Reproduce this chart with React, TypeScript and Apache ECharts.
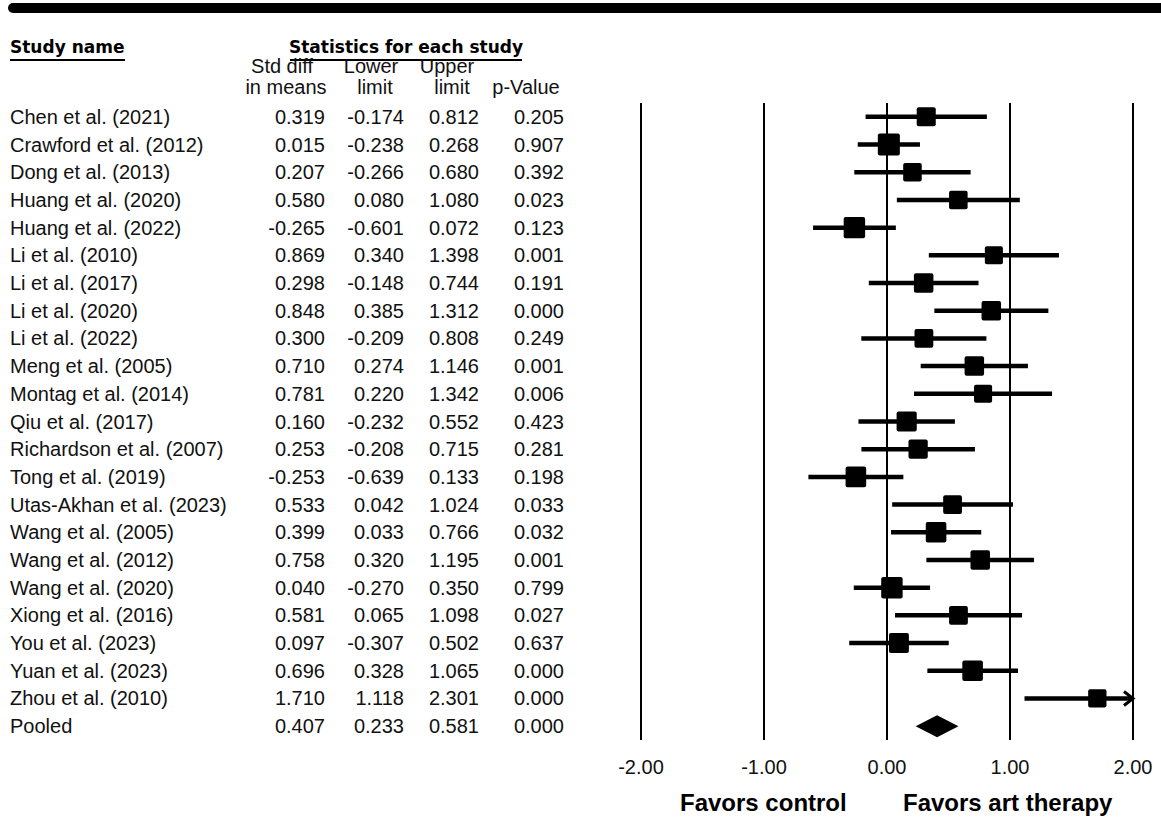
import { useEffect, useRef } from "react";
import * as echarts from "echarts";

const studies = [
  "Chen et al. (2021)",
  "Crawford et al. (2012)",
  "Dong et al. (2013)",
  "Huang et al. (2020)",
  "Huang et al. (2022)",
  "Li et al. (2010)",
  "Li et al. (2017)",
  "Li et al. (2020)",
  "Li et al. (2022)",
  "Meng et al. (2005)",
  "Montag et al. (2014)",
  "Qiu et al. (2017)",
  "Richardson et al. (2007)",
  "Tong et al. (2019)",
  "Utas-Akhan et al. (2023)",
  "Wang et al. (2005)",
  "Wang et al. (2012)",
  "Wang et al. (2020)",
  "Xiong et al. (2016)",
  "You et al. (2023)",
  "Yuan et al. (2023)",
  "Zhou et al. (2010)",
  "Pooled",
];
const stdDiff = [0.319, 0.015, 0.207, 0.58, -0.265, 0.869, 0.298, 0.848, 0.3, 0.71, 0.781, 0.16, 0.253, -0.253, 0.533, 0.399, 0.758, 0.04, 0.581, 0.097, 0.696, 1.71, 0.407];
const lowerLimit = [-0.174, -0.238, -0.266, 0.08, -0.601, 0.34, -0.148, 0.385, -0.209, 0.274, 0.22, -0.232, -0.208, -0.639, 0.042, 0.033, 0.32, -0.27, 0.065, -0.307, 0.328, 1.118, 0.233];
const upperLimit = [0.812, 0.268, 0.68, 1.08, 0.072, 1.398, 0.744, 1.312, 0.808, 1.146, 1.342, 0.552, 0.715, 0.133, 1.024, 0.766, 1.195, 0.35, 1.098, 0.502, 1.065, 2.301, 0.581];
const pValue = [0.205, 0.907, 0.392, 0.023, 0.123, 0.001, 0.191, 0.0, 0.249, 0.001, 0.006, 0.423, 0.281, 0.198, 0.033, 0.032, 0.001, 0.799, 0.027, 0.637, 0.0, 0.0, 0.0];
// relative weights (%) of the individual studies (square area)
const relativeWeight = [4.1, 5.5, 3.9, 3.9, 5.2, 3.7, 4.3, 4.3, 4.0, 4.3, 3.7, 4.6, 4.2, 4.8, 4.0, 4.8, 4.3, 5.2, 4.0, 4.5, 4.8, 3.8];
const xMin = -2;
const xMax = 2;
const xStep = 1;

const FONT = "'Liberation Sans', Arial, sans-serif";
const HFONT = "'DejaVu Sans', Verdana, sans-serif";
const W = 1161;
const H = 839;
const GRID_LEFT = 641;
const GRID_RIGHT_X = 1133;
const GRID_TOP = 103;
const GRID_BOTTOM_Y = 740;

const f3 = (v: number) => v.toFixed(3);

function colAxis(values: string[], rightEdge: number) {
  return {
    type: "category",
    data: studies.map((_, i) => String(i)),
    inverse: true,
    position: "left",
    axisLine: { show: false },
    axisTick: { show: false },
    splitLine: { show: false },
    axisLabel: {
      interval: 0,
      margin: GRID_LEFT - rightEdge,
      align: "right",
      fontSize: 20,
      fontFamily: FONT,
      color: "#111",
      formatter: (_v: string, idx: number) => values[idx],
    },
  };
}

export default function App() {
  const ref = useRef<HTMLDivElement>(null);
  useEffect(() => {
    if (!ref.current) return;
    const chart = echarts.init(ref.current, null, { renderer: "svg" });
    const pooledIdx = studies.length - 1;

    const option: any = {
      animation: false,
      backgroundColor: "#fff",
      grid: {
        left: GRID_LEFT,
        right: W - GRID_RIGHT_X,
        top: GRID_TOP,
        bottom: H - GRID_BOTTOM_Y,
        containLabel: false,
      },
      xAxis: {
        type: "value",
        min: xMin,
        max: xMax,
        interval: xStep,
        axisLine: { show: false },
        axisTick: { show: false },
        splitLine: { show: true, lineStyle: { color: "#000", width: 2 } },
        axisLabel: {
          formatter: (v: number) => v.toFixed(2),
          fontSize: 20,
          fontFamily: FONT,
          color: "#111",
          margin: 17,
        },
      },
      yAxis: [
        {
          type: "category",
          data: studies.map((_, i) => String(i)),
          inverse: true,
          position: "left",
          axisLine: { show: false },
          axisTick: { show: false },
          splitLine: { show: false },
          axisLabel: {
            interval: 0,
            margin: GRID_LEFT - 10,
            align: "left",
            fontSize: 20,
            fontFamily: FONT,
            color: "#111",
            formatter: (_v: string, idx: number) => studies[idx],
          },
        },
        colAxis(stdDiff.map(f3), 325),
        colAxis(lowerLimit.map(f3), 404),
        colAxis(upperLimit.map(f3), 479),
        colAxis(pValue.map(f3), 564),
      ],
      series: [
        {
          type: "custom",
          xAxisIndex: 0,
          yAxisIndex: 0,
          clip: false,
          encode: { x: [0, 1, 2], y: 3 },
          data: studies.map((_, i) => [stdDiff[i], lowerLimit[i], upperLimit[i], i]),
          renderItem: (params: any, api: any) => {
            const est = api.value(0);
            const lo = api.value(1);
            const hi = api.value(2);
            const idx = params.dataIndex;
            const y = api.coord([0, idx])[1];
            const xe = api.coord([est, idx])[0];
            const xl = api.coord([Math.max(lo, xMin), idx])[0];
            const xh = api.coord([Math.min(hi, xMax), idx])[0];
            const black = { fill: "#000", stroke: null };
            if (idx === pooledIdx) {
              const hh = 11;
              return {
                type: "polygon",
                shape: { points: [[xl, y], [xe, y - hh], [xh, y], [xe, y + hh]] },
                style: black,
              };
            }
            const s = 9.4 * Math.sqrt(relativeWeight[idx]);
            const children: any[] = [
              {
                type: "line",
                shape: { x1: xl, y1: y, x2: xh, y2: y },
                style: { stroke: "#000", lineWidth: 4.5 },
              },
              {
                type: "rect",
                shape: { x: xe - s / 2, y: y - s / 2, width: s, height: s, r: 2 },
                style: black,
              },
            ];
            if (hi > xMax) {
              children.push({
                type: "polyline",
                shape: { points: [[xh - 9, y - 7], [xh, y], [xh - 9, y + 7]] },
                style: { stroke: "#000", lineWidth: 3, fill: null },
              });
            }
            if (lo < xMin) {
              children.push({
                type: "polyline",
                shape: { points: [[xl + 9, y - 7], [xl, y], [xl + 9, y + 7]] },
                style: { stroke: "#000", lineWidth: 3, fill: null },
              });
            }
            return { type: "group", children };
          },
        },
      ],
      graphic: [
        {
          type: "rect",
          shape: { x: 8, y: 3, width: W - 8, height: 10, r: [5, 0, 0, 5] },
          style: { fill: "#000" },
        },
        {
          type: "text",
          x: 10,
          y: 47,
          style: { text: "Study name", font: `bold 17px ${HFONT}`, fill: "#000", align: "left", verticalAlign: "middle" },
        },
        { type: "rect", shape: { x: 10, y: 59, width: 115, height: 2 }, style: { fill: "#000" } },
        {
          type: "text",
          x: 406,
          y: 47,
          style: { text: "Statistics for each study", font: `bold 17px ${HFONT}`, fill: "#000", align: "center", verticalAlign: "middle" },
        },
        { type: "rect", shape: { x: 290, y: 59, width: 232, height: 2 }, style: { fill: "#000" } },
        { type: "text", x: 282, y: 66, style: { text: "Std diff", font: `20px ${FONT}`, fill: "#111", align: "center", verticalAlign: "middle" } },
        { type: "text", x: 286, y: 87, style: { text: "in means", font: `20px ${FONT}`, fill: "#111", align: "center", verticalAlign: "middle" } },
        { type: "text", x: 371, y: 66, style: { text: "Lower", font: `20px ${FONT}`, fill: "#111", align: "center", verticalAlign: "middle" } },
        { type: "text", x: 375, y: 87, style: { text: "limit", font: `20px ${FONT}`, fill: "#111", align: "center", verticalAlign: "middle" } },
        { type: "text", x: 447, y: 66, style: { text: "Upper", font: `20px ${FONT}`, fill: "#111", align: "center", verticalAlign: "middle" } },
        { type: "text", x: 452, y: 87, style: { text: "limit", font: `20px ${FONT}`, fill: "#111", align: "center", verticalAlign: "middle" } },
        { type: "text", x: 526, y: 87, style: { text: "p-Value", font: `20px ${FONT}`, fill: "#111", align: "center", verticalAlign: "middle" } },
        { type: "text", x: 680, y: 802, style: { text: "Favors control", font: `bold 24px ${FONT}`, fill: "#000", align: "left", verticalAlign: "middle" } },
        { type: "text", x: 903, y: 802, style: { text: "Favors art therapy", font: `bold 24px ${FONT}`, fill: "#000", align: "left", verticalAlign: "middle" } },
      ],
    };
    chart.setOption(option);
    return () => chart.dispose();
  }, []);
  return (
    <div
      ref={ref}
      style={{ position: "fixed", left: 0, top: 0, width: W, height: H, background: "#fff" }}
    />
  );
}
